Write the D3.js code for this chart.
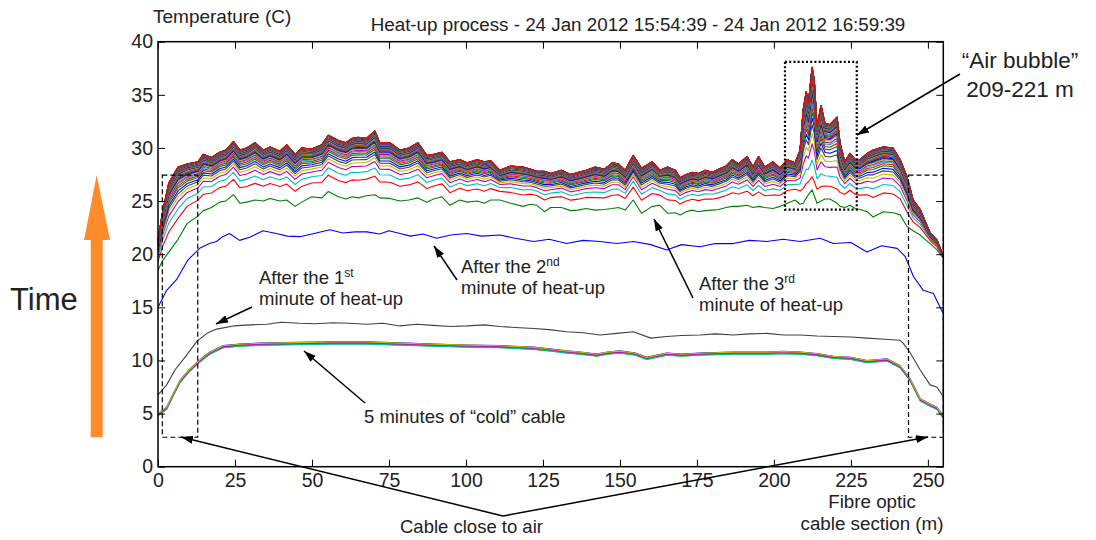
<!DOCTYPE html>
<meta charset="utf-8">
<script src="https://cdn.jsdelivr.net/npm/d3@7"></script>
<style>
body { margin: 0; background: #fff; }
text { font-family: "Liberation Sans", Arial, sans-serif; fill: #222; }
.axis text { font-size: 19.5px; fill: #222; }
.axis line, .axis path { stroke: #000; }
.note { font-size: 18.5px; }
</style>
<body>
<script>

// distances (m) where the heat-up bundle was read
var hotDist = [0, 1.5, 3.5, 6.5, 9.5, 13, 14.7, 17.4, 20, 22, 24.5, 26.6, 28.8, 31.5, 34.2, 36.4, 39.6, 41.8, 44.5, 46.7,
  49.9, 53.2, 55.3, 58.6, 61, 63, 65, 67.7, 70.4, 72, 75.3, 78.6, 81.5, 84.4, 87.3, 89.5, 92.2, 94.8, 98, 100.4,
  103.6, 106, 108, 111, 114.5, 118.5, 121, 123, 125.5, 127.5, 131, 134, 136.4, 139, 142, 145, 147.5, 149.5, 151.7, 154.3,
  157, 160.5, 163, 165.5, 168, 169.5, 171.5, 173.5, 175.5, 177.7, 180, 182, 184.5, 186.5, 188.5, 191.3, 193.2, 195, 197, 199.7,
  202, 204.3, 206.9, 208.5, 209.5, 210.5, 211.2, 212.4, 213.1, 214, 215.3, 216.6, 218.2, 220.5, 221.5, 223, 224.7, 226.4, 228, 230.3,
  232.2, 235.5, 238.7, 241, 243.2, 245.2, 247.5, 250.7, 253, 255];

// last curve (end of heat-up), without the air bubble peak
var hotTop = [21.3, 24.0, 26.7, 28.2, 28.5, 28.7, 29.4, 29.1, 29.6, 29.8, 30.6, 29.8, 30.0, 30.5, 29.8, 30.1, 29.7, 30.3, 29.4, 30.0,
  29.9, 30.3, 31.2, 30.7, 30.5, 30.9, 31.0, 30.9, 31.6, 30.5, 30.5, 29.8, 30.0, 30.5, 29.3, 29.4, 29.6, 28.7, 28.9, 28.6,
  28.9, 28.7, 28.8, 27.9, 28.3, 28.2, 28.0, 27.8, 27.8, 27.6, 27.9, 27.5, 27.7, 27.9, 28.2, 28.0, 28.6, 28.5, 27.9, 29.3,
  28.1, 28.7, 27.9, 28.2, 27.9, 27.2, 27.5, 27.7, 27.6, 27.9, 27.7, 28.0, 28.3, 28.9, 28.5, 29.2, 28.2, 29.2, 28.2, 28.7,
  28.1, 28.9, 28.6, 28.8, 28.8, 28.8, 28.8, 28.8, 28.8, 28.8, 28.8, 28.8, 28.7, 28.7, 28.7, 28.7, 29.5, 28.9, 28.9, 29.5,
  29.8, 30.1, 30.0, 28.9, 27.3, 25.1, 24.2, 22.0, 21.3, 19.8];

// after the 3rd minute of heat-up (green)
var third = [18.5, 19.4, 20.2, 21.4, 22.9, 23.6, 24.1, 24.4, 24.9, 25.0, 25.6, 24.8, 24.9, 25.1, 25.0, 25.25, 25.0, 25.1, 24.5, 24.9,
  25.4, 25.3, 25.9, 25.4, 25.2, 25.4, 25.3, 25.5, 25.6, 25.3, 25.25, 25.0, 25.1, 25.3, 24.9, 25.2, 25.4, 24.6, 25.1, 24.9,
  25.0, 24.8, 25.1, 25.1, 24.8, 24.5, 24.7, 24.6, 24.0, 24.4, 24.4, 24.1, 24.15, 24.3, 24.15, 24.2, 24.3, 24.4, 24.15, 25.1,
  23.85, 24.5, 24.6, 23.85, 23.9, 23.7, 24.0, 24.15, 24.0, 24.1, 24.15, 24.2, 24.4, 24.5, 24.5, 24.6, 24.4, 24.5, 24.4, 24.3,
  24.5, 24.8, 25.1, 24.7, 24.8, 25.3, 25.6, 26.05, 25.5, 24.8, 25.0, 25.2, 25.2, 24.8, 24.5, 24.4, 24.6, 24.3, 24.2, 24.0,
  23.5, 24.0, 23.9, 23.7, 22.6, 22.2, 21.8, 21.0, 20.4, 19.6];

// extra peak of the air bubble on the last curve
var bubbleDist = [208.5, 209.5, 210.5, 211.2, 212.4, 213.1, 214, 215.3, 216.6, 218.2, 220.5, 221.5];
var bubbleExtra = [1.0, 4.8, 6.5, 5.4, 8.8, 7.6, 3.2, 5.2, 3.5, 3.5, 4.2, 1.7];

// how far each curve after the 3rd minute has got (0 = 3rd minute, 1 = last)
var heatLevel = [0.29, 0.42, 0.52, 0.58, 0.63, 0.67, 0.71, 0.74, 0.765, 0.785, 0.805, 0.82, 0.835, 0.85, 0.86,
  0.87, 0.88, 0.89, 0.9, 0.905, 0.91, 0.915, 0.92, 0.925, 0.93, 0.935, 0.94, 0.944, 0.948, 0.952,
  0.956, 0.96, 0.963, 0.966, 0.969, 0.972, 0.975, 0.977, 0.979, 0.981, 0.983, 0.985, 0.987, 0.988, 0.989,
  0.99, 0.991, 0.992, 0.993, 0.994, 0.995, 0.996, 0.997, 0.998, 0.999, 0.9995, 1.0];
var bubbleLevel = [0.05, 0.19, 0.33, 0.42, 0.5, 0.56, 0.61, 0.65, 0.69, 0.72, 0.75, 0.77, 0.79, 0.81, 0.83,
  0.845, 0.86, 0.87, 0.88, 0.89, 0.9, 0.91, 0.92, 0.93, 0.935, 0.94, 0.945, 0.95, 0.955, 0.96,
  0.964, 0.968, 0.972, 0.975, 0.978, 0.981, 0.983, 0.985, 0.987, 0.989, 0.99, 0.991, 0.992, 0.993, 0.994,
  0.995, 0.996, 0.997, 0.998, 0.9985, 0.999, 0.9993, 0.9995, 0.9997, 0.9998, 0.9999, 1.0];

// "cold" cable
var coldDist = [0, 2.8, 5, 7.1, 10, 12.6, 15, 16.9, 19, 21.2, 26.6, 35.3, 46, 56.9, 67.8, 78.6, 89.4, 100.3, 111, 122,
  127, 132.7, 137, 142.5, 146, 150, 155, 158.7, 162, 165.2, 170, 176, 181, 186.8, 192, 197.7, 203, 208.5, 214, 219.3,
  225, 230.2, 236.7, 241, 244.2, 247.5, 250.7, 252.9, 255];
var coldT = [4.9, 5.5, 6.8, 8.0, 9.0, 9.7, 10.3, 10.7, 11.0, 11.3, 11.45, 11.55, 11.6, 11.65, 11.65, 11.55, 11.45, 11.36, 11.3, 11.15,
  11.0, 10.8, 10.7, 10.5, 10.7, 10.8, 10.6, 10.2, 10.4, 10.6, 10.5, 10.6, 10.65, 10.7, 10.7, 10.7, 10.75, 10.7, 10.55, 10.3,
  10.2, 9.9, 10.05, 9.4, 8.2, 6.3, 5.8, 5.5, 4.7];
var coldOffset = [0.1, -0.08, 0.04, -0.11, 0.0, 0.08];

// after the 1st minute (black)
var firstDist = [0, 2.8, 5.5, 9.3, 12.6, 15.9, 19, 24.5, 30, 35.3, 40, 46, 51, 57, 62, 67.8, 73, 78.6, 84, 89.4,
  95, 100.3, 106, 111, 116, 122, 127, 132.7, 138, 143.5, 149, 154.4, 160, 165.2, 170, 176, 181, 186.8, 192, 197.7,
  203, 208.5, 214, 219.3, 225, 230.2, 236, 241, 242, 244.3, 247.5, 250.7, 252.9, 255];
var firstT = [6.75, 7.7, 9.1, 10.5, 11.8, 12.55, 12.95, 13.25, 13.35, 13.4, 13.6, 13.5, 13.45, 13.55, 13.5, 13.4, 13.5, 13.25, 13.4, 13.3,
  13.2, 13.25, 13.35, 13.2, 13.1, 13.0, 12.9, 12.7, 12.6, 12.4, 12.55, 12.7, 12.1, 12.25, 12.35, 12.4, 12.5, 12.4, 12.5, 12.55,
  12.4, 12.4, 12.3, 12.25, 12.2, 12.1, 12.0, 11.9, 11.6, 10.7, 9.1, 7.7, 7.5, 6.6];

// after the 2nd minute (blue)
var secondDist = [0, 2.8, 6, 9.7, 13.5, 16.7, 19, 21, 23.2, 26.5, 29.8, 34.1, 38.4, 42, 46, 50, 55.8, 60, 64, 67.8,
  72, 75, 78.6, 82, 86, 90.5, 95, 100.3, 105, 111, 116, 122, 127, 132.7, 138, 143.5, 149, 154.4, 160, 165.2,
  170, 176, 181, 186.8, 192, 197.7, 203, 208.5, 215, 219.3, 225, 230.2, 235, 240, 242.6, 245.3, 248.5, 251.8, 255];
var secondT = [15.0, 16.6, 17.6, 19.45, 20.55, 21.0, 21.2, 21.65, 21.95, 21.3, 21.6, 22.2, 21.95, 21.7, 21.65, 21.9, 22.3, 22.0, 22.1, 22.1,
  21.9, 22.2, 21.95, 21.7, 21.9, 21.5, 21.8, 21.95, 21.7, 21.8, 21.5, 21.2, 21.4, 21.0, 21.3, 21.2, 21.0, 21.2, 20.9, 20.4,
  20.9, 20.7, 21.0, 21.0, 21.3, 21.2, 21.4, 21.2, 21.5, 21.0, 21.1, 20.2, 20.8, 20.55, 19.8, 17.9, 16.6, 16.3, 14.4];

var colorOrder = ["#0000ff", "#008000", "#ff0000", "#00bfbf", "#bf00bf", "#bfbf00", "#404040"];
var xTicks = [0, 25, 50, 75, 100, 125, 150, 175, 200, 225, 250];
var yTicks = [0, 5, 10, 15, 20, 25, 30, 35, 40];

var width = 1096, height = 540;
var x = d3.scaleLinear().domain([0, 255]).range([158, 943.3]);
var y = d3.scaleLinear().domain([0, 40]).range([466.7, 41.7]);

var svg = d3.select("body").append("svg")
    .attr("width", width)
    .attr("height", height);

var defs = svg.append("defs");
defs.append("marker")
    .attr("id", "head")
    .attr("markerUnits", "userSpaceOnUse")
    .attr("viewBox", "0 0 12 8")
    .attr("refX", 12).attr("refY", 4)
    .attr("markerWidth", 12).attr("markerHeight", 8)
    .attr("orient", "auto")
  .append("path")
    .attr("d", "M0,0L12,4L0,8Z")
    .attr("fill", "#000");

var line = d3.line()
    .x(function(d) { return x(d[0]); })
    .y(function(d) { return y(d[1]); });

function draw(points, color) {
  svg.append("path")
      .attr("d", line(points))
      .attr("fill", "none")
      .attr("stroke", color)
      .attr("stroke-width", 1.1)
      .attr("stroke-linejoin", "round");
}

var k = 0;
// cold cable curves
coldOffset.forEach(function(off) {
  draw(coldDist.map(function(m, i) { return [m, coldT[i] + off]; }), colorOrder[k % 7]);
  k++;
});
draw(firstDist.map(function(m, i) { return [m, firstT[i]]; }), colorOrder[k++ % 7]);
draw(secondDist.map(function(m, i) { return [m, secondT[i]]; }), colorOrder[k++ % 7]);
draw(hotDist.map(function(m, i) { return [m, third[i]]; }), colorOrder[k++ % 7]);

var bubble = {};
bubbleDist.forEach(function(m, i) { bubble[m] = bubbleExtra[i]; });

heatLevel.forEach(function(lv, j) {
  var pts = hotDist.map(function(m, i) {
    return [m, third[i] + (hotTop[i] - third[i]) * lv + (bubble[m] || 0) * bubbleLevel[j]];
  });
  draw(pts, colorOrder[k++ % 7]);
});

// axes
svg.append("g").attr("class", "axis")
    .attr("transform", "translate(0," + y(0) + ")")
    .call(d3.axisBottom(x).tickValues(xTicks).tickSizeInner(-7).tickSizeOuter(0).tickPadding(6));
svg.append("g").attr("class", "axis")
    .attr("transform", "translate(0," + y(40) + ")")
    .call(d3.axisTop(x).tickValues(xTicks).tickSizeInner(-7).tickSizeOuter(0).tickFormat(""));
svg.append("g").attr("class", "axis")
    .attr("transform", "translate(" + x(0) + ",0)")
    .call(d3.axisLeft(y).tickValues(yTicks).tickSizeInner(-7).tickSizeOuter(0).tickPadding(5));
svg.append("g").attr("class", "axis")
    .attr("transform", "translate(" + x(255) + ",0)")
    .call(d3.axisRight(y).tickValues(yTicks).tickSizeInner(-7).tickSizeOuter(0).tickFormat(""));
svg.selectAll(".axis .domain").remove();
svg.selectAll(".axis text").attr("font-family", null).attr("font-size", null);
svg.append("rect")
    .attr("x", x(0)).attr("y", y(40))
    .attr("width", x(255) - x(0)).attr("height", y(0) - y(40))
    .attr("fill", "none").attr("stroke", "#000").attr("stroke-width", 1.5);

// dashed boxes: cable close to air
[[1.4, 12.9], [243.7, 255]].forEach(function(r) {
  svg.append("rect")
      .attr("x", x(r[0])).attr("y", y(27.45))
      .attr("width", x(r[1]) - x(r[0])).attr("height", y(2.77) - y(27.45))
      .attr("fill", "none").attr("stroke", "#000").attr("stroke-width", 1.2)
      .attr("stroke-dasharray", "5,3");
});
// dotted box: air bubble
svg.append("rect")
    .attr("x", x(203.6)).attr("y", y(38.1))
    .attr("width", x(226.9) - x(203.6)).attr("height", y(24.2) - y(38.1))
    .attr("fill", "none").attr("stroke", "#000").attr("stroke-width", 2.2)
    .attr("stroke-dasharray", "2,2.2");

function arrow(x1, y1, x2, y2) {
  svg.append("line")
      .attr("x1", x1).attr("y1", y1).attr("x2", x2).attr("y2", y2)
      .attr("stroke", "#000").attr("stroke-width", 1.5)
      .attr("marker-end", "url(#head)");
}

function note(x0, y0, lines) {
  var t = svg.append("text").attr("class", "note")
      .attr("x", x0).attr("y", y0);
  lines.forEach(function(l, i) {
    t.append("tspan").attr("x", x0).attr("y", y0 + i * 20.5).text(l[0]);
    if (l[1]) {
      t.append("tspan").attr("dy", "-7").style("font-size", "12px").text(l[1]);
    }
  });
  return t;
}

// titles
svg.append("text").attr("x", 153).attr("y", 23).style("font-size", "19px").text("Temperature (C)");
svg.append("text").attr("x", 638).attr("y", 31).attr("text-anchor", "middle")
    .style("font-size", "18.8px")
    .text("Heat-up process - 24 Jan 2012 15:54:39 - 24 Jan 2012 16:59:39");
svg.append("text").attr("x", 872).attr("y", 508).attr("text-anchor", "middle").style("font-size", "18.8px").text("Fibre optic");
svg.append("text").attr("x", 872).attr("y", 530).attr("text-anchor", "middle").style("font-size", "18.8px").text("cable section (m)");

// annotations
note(259, 284, [["After the 1", "st"], ["minute of heat-up"]]);
arrow(252, 307, 216, 324);
note(461, 273, [["After the 2", "nd"], ["minute of heat-up"]]);
arrow(457, 280, 434, 246);
note(699, 290, [["After the 3", "rd"], ["minute of heat-up"]]);
arrow(693, 298, 654, 219);
note(364, 423, [["5 minutes of \u201Ccold\u201D cable"]]);
arrow(365, 403, 304, 351);
note(400, 533, [["Cable close to air"]]);
arrow(503, 516, 181, 437);
arrow(503, 516, 928, 437);

svg.append("text").attr("x", 1020).attr("y", 68).attr("text-anchor", "middle")
    .style("font-size", "22.5px").text("\u201CAir bubble\u201D");
svg.append("text").attr("x", 1020).attr("y", 97).attr("text-anchor", "middle")
    .style("font-size", "22.5px").text("209-221 m");
arrow(960, 74, 857, 135);

// time arrow
svg.append("path")
    .attr("d", "M90.7,437.3L90.7,240L84,240L96.7,175L110,240L102.7,240L102.7,437.3Z")
    .attr("fill", "#ff8c2b");
svg.append("text").attr("x", 10).attr("y", 310).style("font-size", "31px").text("Time");

</script>
</body>
